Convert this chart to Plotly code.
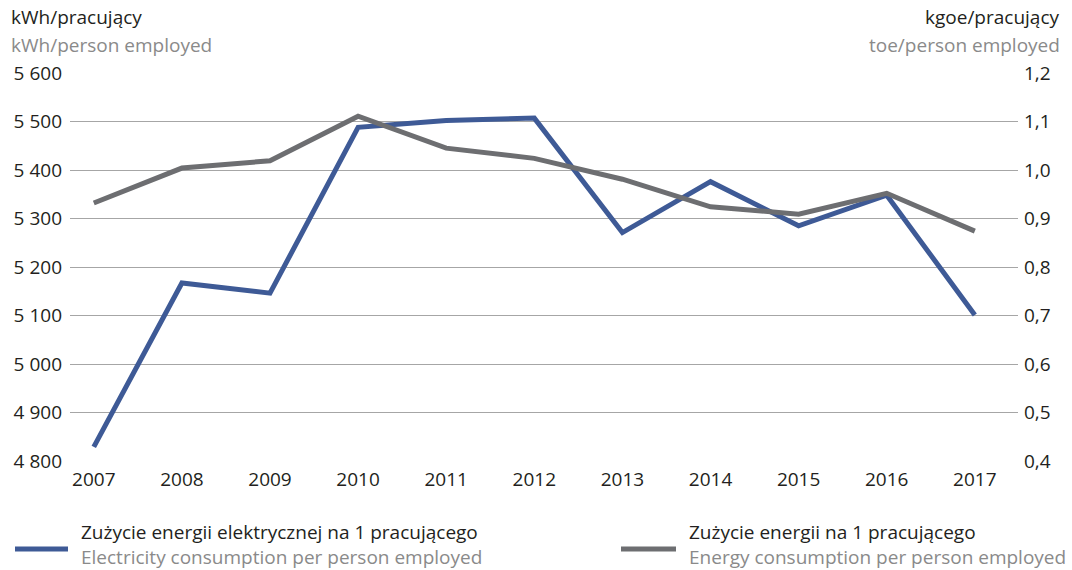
import plotly.graph_objects as go

years = [2007, 2008, 2009, 2010, 2011, 2012, 2013, 2014, 2015, 2016, 2017]
electricity_kwh = [4829, 5167, 5146, 5488, 5502, 5507, 5271, 5376, 5285, 5348, 5101]
energy_toe = [0.932, 1.004, 1.019, 1.111, 1.045, 1.024, 0.981, 0.924, 0.909, 0.952, 0.874]

left_ticks = [4800, 4900, 5000, 5100, 5200, 5300, 5400, 5500, 5600]
left_ticktext = ["4 800", "4 900", "5 000", "5 100", "5 200", "5 300", "5 400", "5 500", "5 600"]
right_ticks = [0.4, 0.5, 0.6, 0.7, 0.8, 0.9, 1.0, 1.1, 1.2]
right_ticktext = ["0,4", "0,5", "0,6", "0,7", "0,8", "0,9", "1,0", "1,1", "1,2"]

BLUE = "#3e5a96"
GRAY = "#6d6e71"
DARK = "#231f20"
LIGHT = "#8a8a8a"
FONT = "Open Sans"
FS = 19

fig = go.Figure()
fig.add_trace(go.Scatter(x=years, y=electricity_kwh, mode="lines",
                         line=dict(color=BLUE, width=5), yaxis="y", showlegend=False))
fig.add_trace(go.Scatter(x=years, y=energy_toe, mode="lines",
                         line=dict(color=GRAY, width=5), yaxis="y2", showlegend=False))

fig.update_layout(
    width=1072, height=570,
    margin=dict(l=70, r=54, t=73, b=109),
    paper_bgcolor="white", plot_bgcolor="white",
    font=dict(family=FONT, size=FS, color=DARK),
    xaxis=dict(range=[2006.73, 2017.49], tickvals=years, ticktext=[str(y) for y in years],
               showgrid=False, zeroline=False, showline=False, ticks="",
               ticklabelstandoff=5, tickfont=dict(size=FS, color=DARK)),
    yaxis=dict(range=[4800, 5600], tickvals=left_ticks, ticktext=left_ticktext,
               showgrid=True, gridcolor="#a6a6a6", gridwidth=1.3, zeroline=False,
               showline=False, ticks="", ticklabelstandoff=7, tickfont=dict(size=FS, color=DARK)),
    yaxis2=dict(range=[0.4, 1.2], tickvals=right_ticks, ticktext=right_ticktext,
                overlaying="y", side="right", showgrid=False, zeroline=False,
                showline=False, ticks="", ticklabelstandoff=5, tickfont=dict(size=FS, color=DARK)),
)

def px_x(v):
    return (v - 70) / (1072 - 70 - 54)

def px_y(v):
    return (570 - 109 - v) / (570 - 73 - 109)

ann = [
    dict(text="kWh/pracujący", x=12, y=17, anchor="left", yanchor="middle"),
    dict(text=f"<span style='color:{LIGHT}'>kWh/person employed</span>", x=12, y=45, anchor="left", yanchor="middle"),
    dict(text="kgoe/pracujący", x=1059, y=17, anchor="right", yanchor="middle"),
    dict(text=f"<span style='color:{LIGHT}'>toe/person employed</span>", x=1059, y=45, anchor="right", yanchor="middle"),
    dict(text=f"Zużycie energii elektrycznej na 1 pracującego<br><span style='color:{LIGHT}'>Electricity consumption per person employed</span>",
         x=82, y=518, anchor="left", yanchor="top"),
    dict(text=f"Zużycie energii na 1 pracującego<br><span style='color:{LIGHT}'>Energy consumption per person employed</span>",
         x=690, y=518, anchor="left", yanchor="top"),
]
for a in ann:
    fig.add_annotation(text=a["text"], xref="paper", yref="paper",
                       x=px_x(a["x"]), y=px_y(a["y"]),
                       xanchor=a["anchor"], yanchor=a["yanchor"], align="left" if a["anchor"] == "left" else "right",
                       showarrow=False, borderpad=0,
                       xshift=-2 if a["anchor"] == "left" else 2,
                       font=dict(family=FONT, size=FS, color=DARK))

fig.add_shape(type="line", xref="paper", yref="paper", x0=px_x(15), x1=px_x(68), y0=px_y(549), y1=px_y(549),
              line=dict(color=BLUE, width=5))
fig.add_shape(type="line", xref="paper", yref="paper", x0=px_x(621), x1=px_x(676), y0=px_y(549), y1=px_y(549),
              line=dict(color=GRAY, width=5))

fig.write_html("out.html", config={"displayModeBar": False},
               post_script="document.body.style.margin='0';document.body.style.overflow='hidden';")
